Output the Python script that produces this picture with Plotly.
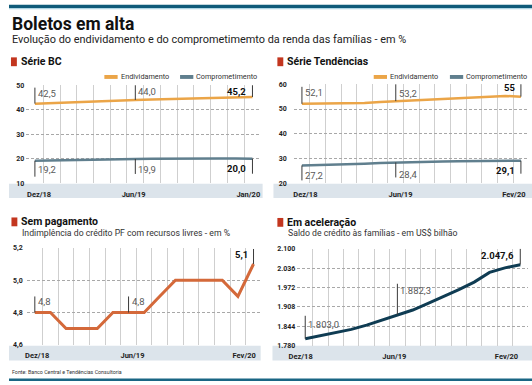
import plotly.graph_objects as go

W, H = 532, 385

# ---------------- data ----------------
meses_bc = ["Dez/18", "Jan/19", "Fev/19", "Mar/19", "Abr/19", "Mai/19", "Jun/19",
            "Jul/19", "Ago/19", "Set/19", "Out/19", "Nov/19", "Dez/19", "Jan/20"]
meses = meses_bc + ["Fev/20"]

bc_endividamento = [42.5, 42.8, 43.0, 43.2, 43.5, 43.8, 44.0, 44.2, 44.4, 44.6, 44.8, 45.0, 45.1, 45.2]
bc_comprometimento = [19.2, 19.3, 19.3, 19.4, 19.4, 19.7, 19.9, 20.0, 20.1, 20.1, 20.2, 20.1, 20.1, 20.0]

tend_endividamento = [52.1, 52.1, 52.1, 52.2, 52.4, 52.8, 53.2, 53.5, 53.8, 54.1, 54.4, 54.7, 55.0, 55.3, 55.0]
tend_comprometimento = [27.2, 27.3, 27.5, 27.7, 27.9, 28.2, 28.4, 28.6, 28.7, 28.8, 28.9, 29.0, 29.0, 29.1, 29.1]

inadimplencia = [4.8, 4.8, 4.7, 4.7, 4.7, 4.8, 4.8, 4.8, 4.9, 5.0, 5.0, 5.0, 5.0, 4.9, 5.1]
saldo_credito = [1803.0, 1813.0, 1822.0, 1834.0, 1848.0, 1864.0, 1882.3, 1898.0, 1920.0,
                 1942.0, 1965.0, 1990.0, 2022.0, 2037.0, 2047.6]

rotulos_x_bc = ["Dez/18", "Jun/19", "Jan/20"]
rotulos_x = ["Dez/18", "Jun/19", "Fev/20"]
ticks_bc = [10, 20, 30, 40, 50]
ticks_tend = [20, 30, 40, 50, 60]
ticks_inad = [4.6, 4.8, 5.0, 5.2]
ticks_saldo = [1780, 1844, 1908, 1972, 2036, 2100]

# ---------------- style ----------------
FONT = "Roboto, 'DejaVu Sans', sans-serif"
C_END = "#EBA548"
C_COMP = "#607F8E"
C_INAD = "#D4693A"
C_SALDO = "#0F3C53"
C_RED = "#C3361F"
C_BAND = "#DCE4EB"
C_TEAL = "#0F5B7A"


def fx(p):
    return p / W


def fy(p):
    return 1 - p / H


def br(v, dec=1):
    s = f"{v:,.{dec}f}"
    return s.replace(",", "#").replace(".", ",").replace("#", ".")


fig = go.Figure()
shapes = []
annots = []

# nudge: small horizontal offsets (in month units) of the x tick labels inside the band
panels = [
    dict(n=1, xd=(17.5, 256.5), yd=(83, 183), cats=meses_bc, yr=(10, 50), yt=ticks_bc, yf="d",
         lab=rotulos_x_bc, nudge=(0.25, -0.1, -0.25), ystand=1, band=(0, 258, 183.5, 198),
         series=[(bc_endividamento, C_END, 2.5, "Endividamento"), (bc_comprometimento, C_COMP, 2.5, "Comprometimento")]),
    dict(n=2, xd=(289.7, 529), yd=(82, 183), cats=meses, yr=(20, 60), yt=ticks_tend, yf="d",
         lab=rotulos_x, nudge=(0.22, 0.3, -0.45), ystand=6, band=(269, 532, 183.5, 198),
         series=[(tend_endividamento, C_END, 2.5, "Endividamento"), (tend_comprometimento, C_COMP, 2.5, "Comprometimento")]),
    dict(n=3, xd=(18, 257), yd=(249, 348), cats=meses, yr=(4.6, 5.2), yt=ticks_inad, yf=".1f",
         lab=rotulos_x, nudge=(0.15, 0.25, -0.6), ystand=3, band=(0, 256, 349, 364),
         series=[(inadimplencia, C_INAD, 3, "Inadimplência")]),
    dict(n=4, xd=(293.2, 528.2), yd=(250, 349), cats=meses, yr=(1780, 2100), yt=ticks_saldo, yf=",d",
         lab=rotulos_x, nudge=(-0.3, -0.2, -0.9), ystand=1, band=(268, 532, 349, 364),
         series=[(saldo_credito, C_SALDO, 3, "Saldo")]),
]

for p in panels:
    n = p["n"]
    sfx = "" if n == 1 else str(n)
    N = len(p["cats"])
    xs = list(range(N))
    for vals, col, w, name in p["series"]:
        fig.add_trace(go.Scatter(x=xs, y=vals, mode="lines", name=name,
                                 line=dict(color=col, width=w, shape="linear"),
                                 xaxis="x" + sfx, yaxis="y" + sfx, showlegend=False,
                                 hoverinfo="skip"))
    fig.layout["xaxis" + sfx] = dict(
        domain=[fx(p["xd"][0]), fx(p["xd"][1])], range=[-0.52, N - 1 + 0.52],
        anchor="y" + sfx, showgrid=False, zeroline=False, showline=False, ticks="",
        tickmode="array",
        tickvals=[p["cats"].index(m) + d for m, d in zip(p["lab"], p["nudge"])],
        ticktext=p["lab"], ticklabelstandoff=5,
        tickfont=dict(family=FONT, size=7.5, color="#1e1e1e", weight="bold"),
        minor=dict(tickmode="array", tickvals=[i - 0.5 for i in range(N + 1)], showgrid=True,
                   gridcolor="#cfcfcf", gridwidth=1, ticks=""),
        fixedrange=True)
    fig.layout["yaxis" + sfx] = dict(
        domain=[fy(p["yd"][1]), fy(p["yd"][0])], range=list(p["yr"]), anchor="x" + sfx,
        tickmode="array", tickvals=p["yt"], tickformat=p["yf"], ticks="",
        ticklabelstandoff=p["ystand"],
        tickfont=dict(family=FONT, size=7, color="#1e1e1e", weight="bold"),
        showgrid=True, gridcolor="#a8a8a8", gridwidth=1, griddash="3px,2px",
        zeroline=False, showline=False, fixedrange=True)
    b = p["band"]
    shapes.append(dict(type="rect", xref="paper", yref="paper", x0=fx(b[0]), x1=fx(b[1]),
                       y0=fy(b[3]), y1=fy(b[2]), fillcolor=C_BAND, line=dict(width=0), layer="below"))

# value callouts: (panel n, series, index, direction, line length, text yshift, side, bold, text)
callouts = [
    (1, bc_endividamento, 0, 1, 16, 10, "r", False, br(bc_endividamento[0])),
    (1, bc_endividamento, 6, 1, 15, 8.5, "r", False, br(bc_endividamento[6])),
    (1, bc_endividamento, 13, 1, 13, 6, "l", True, br(bc_endividamento[13])),
    (1, bc_comprometimento, 0, -1, 16, -9, "r", False, br(bc_comprometimento[0])),
    (1, bc_comprometimento, 6, -1, 15, -11, "r", False, br(bc_comprometimento[6])),
    (1, bc_comprometimento, 13, -1, 15, -10, "l", True, br(bc_comprometimento[13])),
    (2, tend_endividamento, 0, 1, 17, 11, "r", False, br(tend_endividamento[0])),
    (2, tend_endividamento, 6, 1, 17, 8, "r", False, br(tend_endividamento[6])),
    (2, tend_endividamento, 14, 1, 13, 9.5, "l", True, br(tend_endividamento[14], 0)),
    (2, tend_comprometimento, 0, -1, 15, -10, "r", False, br(tend_comprometimento[0])),
    (2, tend_comprometimento, 6, -1, 15, -12, "r", False, br(tend_comprometimento[6])),
    (2, tend_comprometimento, 14, -1, 13, -10, "l", True, br(tend_comprometimento[14])),
    (3, inadimplencia, 0, 1, 16, 11, "r", False, br(inadimplencia[0])),
    (3, inadimplencia, 6, 1, 16, 11, "r", False, br(inadimplencia[6])),
    (3, inadimplencia, 14, 1, 15, 9.5, "l", True, br(inadimplencia[14])),
    (4, saldo_credito, 0, 1, 23, 14, "r", False, br(saldo_credito[0])),
    (4, saldo_credito, 6, 1, 31, 24, "r", False, br(saldo_credito[6])),
    (4, saldo_credito, 14, 1, 16, 9, "l", True, br(saldo_credito[14])),
]
for n, ser, i, d, L, ysh, side, bold, txt in callouts:
    sfx = "" if n == 1 else str(n)
    shapes.append(dict(type="line", xref="x" + sfx, yref="y" + sfx, x0=i, x1=i,
                       ysizemode="pixel", yanchor=ser[i], y0=0, y1=d * L,
                       line=dict(color="#3a3a3a", width=1)))
    annots.append(dict(xref="x" + sfx, yref="y" + sfx, x=i, y=ser[i], text=txt, showarrow=False,
                       xanchor="left" if side == "r" else "right", yanchor="middle",
                       xshift=1 if side == "r" else -4, yshift=ysh,
                       font=dict(family=FONT, size=9.5, color="#111" if bold else "#5a5a5a",
                                 weight="bold" if bold else "normal")))

# headers
def header(x_sq, y_c, text, sub=None, sub_y=None):
    shapes.append(dict(type="rect", xref="paper", yref="paper", x0=fx(x_sq), x1=fx(x_sq + 6),
                       y0=fy(y_c + 4.5), y1=fy(y_c - 4.5), fillcolor=C_RED, line=dict(width=0)))
    annots.append(dict(xref="paper", yref="paper", x=fx(x_sq + 8), y=fy(y_c), text=text,
                       showarrow=False, xanchor="left", yanchor="middle",
                       font=dict(family=FONT, size=10.5, color="#111", weight="bold")))
    if sub:
        annots.append(dict(xref="paper", yref="paper", x=fx(x_sq + 8.5), y=fy(sub_y), text=sub,
                           showarrow=False, xanchor="left", yanchor="middle",
                           font=dict(family=FONT, size=8.7, color="#333")))


header(2, 59, "Série BC")
header(273, 59, "Série Tendências")
header(2.5, 222.5, "Sem pagamento", "Indimplência do crédito PF com recursos livres - em %", 234)
header(273, 223, "Em aceleração", "Saldo de crédito às famílias - em US$ bilhão", 234)

# legends
def legend_item(x0, y, color, text):
    shapes.append(dict(type="rect", xref="paper", yref="paper", x0=fx(x0), x1=fx(x0 + 13.5),
                       y0=fy(y + 2), y1=fy(y - 2), fillcolor=color, line=dict(width=0)))
    annots.append(dict(xref="paper", yref="paper", x=fx(x0 + 14.5), y=fy(y), text=text,
                       showarrow=False, xanchor="left", yanchor="middle",
                       font=dict(family=FONT, size=7.3, color="#333")))


legend_item(97, 74.5, C_END, "Endividamento")
legend_item(174, 74.5, C_COMP, "Comprometimento")
legend_item(371, 74.5, C_END, "Endividamento")
legend_item(448.5, 74.5, C_COMP, "Comprometimento")

# title, subtitle, footer
annots.append(dict(xref="paper", yref="paper", x=fx(1.5), y=fy(20), text="Boletos em alta",
                   showarrow=False, xanchor="left", yanchor="middle",
                   font=dict(family=FONT, size=17.5, color="#111", weight="bold")))
annots.append(dict(xref="paper", yref="paper", x=fx(1.5), y=fy(36.5),
                   text="Evolução do endividamento e do comprometimemto da renda das famílias - em %",
                   showarrow=False, xanchor="left", yanchor="middle",
                   font=dict(family=FONT, size=10.9, color="#222")))
annots.append(dict(xref="paper", yref="paper", x=fx(1.5), y=fy(376), text="Fonte: Banco Central e Tendências Consultoria",
                   showarrow=False, xanchor="left", yanchor="middle",
                   font=dict(family=FONT, size=5.3, color="#333")))

# top and bottom rules
shapes.append(dict(type="rect", xref="paper", yref="paper", x0=0, x1=1, y0=fy(4.3), y1=fy(0.8),
                   fillcolor=C_TEAL, line=dict(width=0)))
shapes.append(dict(type="rect", xref="paper", yref="paper", x0=0, x1=1, y0=fy(5.3), y1=fy(4.3),
                   fillcolor="#a9d4e4", line=dict(width=0)))
shapes.append(dict(type="rect", xref="paper", yref="paper", x0=0, x1=1, y0=fy(385), y1=fy(382.5),
                   fillcolor="#1A6684", line=dict(width=0)))

fig.update_layout(width=W, height=H, margin=dict(l=0, r=0, t=0, b=0),
                  paper_bgcolor="white", plot_bgcolor="white", separators=",.",
                  showlegend=False, shapes=shapes, annotations=annots,
                  font=dict(family=FONT))

fig.write_html("out.html", config={"displayModeBar": False},
               post_script="document.body.style.margin='0';document.body.style.padding='0';"
                           "document.body.style.overflow='hidden';")
